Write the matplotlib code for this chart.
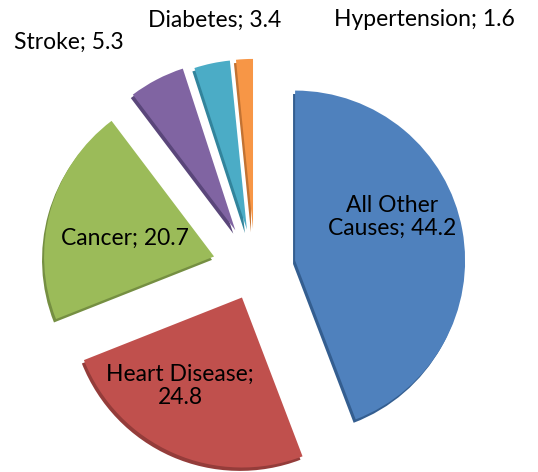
import matplotlib
matplotlib.use('Agg')
import matplotlib.pyplot as plt

# causes of death share (%)
causes = ['All Other Causes', 'Heart Disease', 'Cancer', 'Stroke', 'Diabetes', 'Hypertension']
values = [44.2, 24.8, 20.7, 5.3, 3.4, 1.6]
colors = ['#4F81BD', '#C0504D', '#9BBB59', '#8064A2', '#4BACC6', '#F79646']
shade = ['#345E90', '#943C3A', '#758F42', '#5A467A', '#32849C', '#C27232']
explode = [0.24, 0.19, 0.25, 0.25, 0.23, 0.23]

plt.rcParams['font.family'] = ['Lato', 'DejaVu Sans']

fig = plt.figure(figsize=(5.38, 4.72), dpi=100)
ax = fig.add_axes([0, 0, 1, 1])

# thickness: darker copy shifted down-left
ax.pie(values, colors=shade, explode=explode, startangle=90, counterclock=False,
       radius=1.0, center=(-0.012, -0.02), wedgeprops=dict(linewidth=0))
ax.pie(values, colors=colors, explode=explode, startangle=90, counterclock=False,
       radius=1.0, center=(0, 0), wedgeprops=dict(linewidth=0))

ax.set_xlim(-1.5, 1.665)
ax.set_ylim(-1.2, 1.576)
ax.set_aspect('equal')
ax.axis('off')

# label positions in pixels of the reference image -> data coords
def px(x, y):
    return (x - 255) / 170, (268 - y) / 170

labels = [
    ('All Other\nCauses; 44.2', 392, 217),
    ('Heart Disease;\n24.8', 180, 386),
    ('Cancer; 20.7', 125, 238),
    ('Stroke; 5.3', 69, 42),
    ('Diabetes; 3.4', 215, 20),
    ('Hypertension; 1.6', 424, 20),
]
for txt, x, y in labels:
    dx, dy = px(x, y)
    ax.text(dx, dy, txt, ha='center', va='center', fontsize=16.5,
            color='black', linespacing=1.15)

fig.savefig('out.png', dpi=100)
